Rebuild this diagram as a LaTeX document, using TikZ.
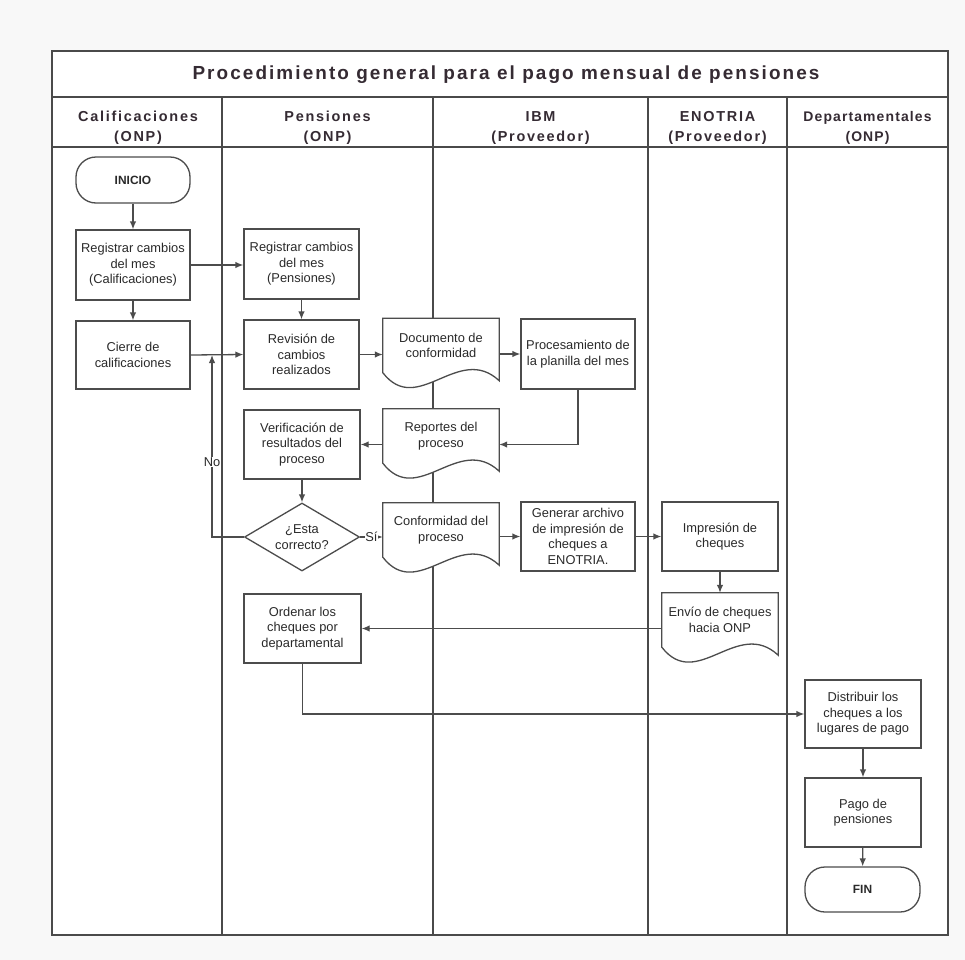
\documentclass[tikz,border=0pt]{standalone}
\usepackage{fontspec}
\setmainfont{Liberation Sans}
\newfontfamily\hdrfont[LetterSpace=12]{Liberation Sans}
\newfontfamily\depfont[LetterSpace=8]{Liberation Sans}
\newfontfamily\ttlfont[LetterSpace=11]{Liberation Sans}
\usetikzlibrary{shapes.geometric,arrows.meta,calc}
\definecolor{lnc}{HTML}{4C4C4C}
\definecolor{frc}{HTML}{4A4A4A}
\definecolor{txc}{HTML}{2A2A2A}
\definecolor{hdc}{HTML}{352B33}
\definecolor{outbg}{HTML}{F8F8F8}
\pgfdeclarelayer{lanes}
\pgfdeclarelayer{docbg}
\pgfsetlayers{lanes,docbg,main}
\newcommand\nodefnt{\fontsize{12.9}{15.5}\selectfont}
\newcommand\docoutline[1]{%
  \path[draw=lnc,line width=1.3bp,fill=white]
    (#1.north west) -- (#1.north east) -- ($(#1.south east)+(0,8)$)
    .. controls ($(#1.south west)!0.65!(#1.south east)+(0,-30)$) and ($(#1.south west)!0.3!(#1.south east)+(0,45)$) .. (#1.south west) -- cycle;}
\tikzset{
  box/.style={draw=lnc,line width=1.3bp,fill=white,minimum width=115bp,minimum height=69bp,
    align=center,inner sep=2bp,font=\nodefnt,text=txc},
  term/.style={box,rounded corners=20bp,minimum height=46bp,font=\fontsize{12}{14}\selectfont\bfseries},
  dec/.style={draw=lnc,line width=1.3bp,fill=white,diamond,aspect=1.69,minimum width=115bp,
    minimum height=68bp,inner sep=0pt,align=center,font=\nodefnt,text=txc},
  docn/.style={align=center,minimum width=116bp,minimum height=54bp,inner sep=0pt,font=\nodefnt,text=txc},
  arr/.style={draw=lnc,line width=1.3bp,-{Latex[length=8bp,width=6.5bp]}},
  con/.style={draw=lnc,line width=1.3bp},
  hdr/.style={align=center,text=hdc,font=\hdrfont\bfseries\fontsize{14.5}{20}\selectfont},
  lbl/.style={fill=white,inner sep=0.6bp,text=txc,font=\nodefnt},
  lane/.style={draw=frc,line width=1.6bp}
}
\begin{document}
\begin{tikzpicture}[x=1bp,y=-1bp]
\useasboundingbox (0,0) rectangle (965,960);
\begin{pgfonlayer}{lanes}
\fill[outbg] (0,0) rectangle (965,960);
\fill[white] (52,51) rectangle (948,935);
\draw[lane] (52,51) rectangle (948,935);
\draw[lane] (52,97) -- (948,97);
\draw[lane] (52,147) -- (948,147);
\foreach \x in {222,433,648,787} \draw[lane] (\x,97) -- (\x,935);
\end{pgfonlayer}

\node[text=hdc,font=\ttlfont\bfseries\fontsize{19}{21}\selectfont] (title) at (506,75) {Procedimiento general para el pago mensual de pensiones};
\node[hdr] (h1) at (138,128) {Calificaciones\\(ONP)};
\node[hdr] (h2) at (327.5,128) {Pensiones\\(ONP)};
\node[hdr] (h3) at (540.5,128) {IBM\\(Proveedor)};
\node[hdr] (h4) at (717.5,128) {ENOTRIA\\(Proveedor)};
\node[hdr,font=\depfont\bfseries\fontsize{14}{20}\selectfont] (h5) at (867.5,128) {Departamentales\\(ONP)};

% column 1
\node[term,minimum width=114bp] (inicio) at (133,180) {INICIO};
\node[box,minimum width=114bp,minimum height=70bp] (regc) at (133,265) {Registrar cambios\\del mes\\(Calificaciones)};
\node[box,minimum width=114bp,minimum height=68bp] (cierre) at (133,355) {Cierre de\\calificaciones};
% column 2
\node[box,minimum height=70bp] (regp) at (301.5,264) {Registrar cambios\\del mes\\(Pensiones)};
\node[box] (rev) at (301.5,354.5) {Revisión de\\cambios\\realizados};
\node[box,minimum width=116bp] (verif) at (302,444.5) {Verificación de\\resultados del\\proceso};
\node[dec] (dia) at (302,537) {¿Esta\\correcto?};
\node[box,minimum width=117bp] (ord) at (302.5,628.5) {Ordenar los\\cheques por\\departamental};
% column 3
\node[docn] (doc) at (441,345.5) {Documento de\\conformidad};
\node[docn] (rep) at (441,436) {Reportes del\\proceso};
\node[docn] (conf) at (441,530) {Conformidad del\\proceso};
\node[box,minimum width=114bp,minimum height=70bp] (proc) at (578,354) {Procesamiento de\\la planilla del mes};
\node[box,minimum width=114bp] (gen) at (578,536.5) {Generar archivo\\de impresión de\\cheques a\\ENOTRIA.};
% column 4
\node[box,minimum width=116bp] (imp) at (720,536.5) {Impresión de\\cheques};
\node[docn] (env) at (720,620) {Envío de cheques\\hacia ONP};
% column 5
\node[box,minimum width=116bp,minimum height=68bp] (dist) at (863,714) {Distribuir los\\cheques a los\\lugares de pago};
\node[box,minimum width=116bp] (pago) at (863,812.5) {Pago de\\pensiones};
\node[term,minimum width=115bp,minimum height=45bp] (fin) at (862.5,889.5) {FIN};

\begin{pgfonlayer}{docbg}
\docoutline{doc}
\docoutline{rep}
\docoutline{conf}
\docoutline{env}
\end{pgfonlayer}

% connectors
\draw[arr] (inicio) -- (regc);
\draw[arr] (regc) -- (cierre);
\draw[arr] (regc.east) -- (regc.east -| regp.west);
\draw[arr] (regp) -- (rev);
\draw[arr] (cierre.east) -- (rev.west);
\draw[arr] (rev.east) -- (rev.east -| doc.west);
\draw[arr] (proc.west -| doc.east) -- (proc.west);
\draw[arr] (proc.south) |- (verif.east -| rep.east);
\draw[arr] (verif.east -| rep.west) -- (verif.east);
\draw[arr] (verif) -- (dia);
\coordinate (nj) at (212,355);
\draw[arr] (dia.west) -| (nj);
\node[lbl] (no) at (212,462) {No};
\draw[arr] (dia.east) -- (dia.east -| conf.west) node[lbl,midway] (si) {Sí};
\draw[arr] (gen.west -| conf.east) -- (gen.west);
\draw[arr] (gen.east) -- (imp.west);
\draw[arr] (imp) -- (env);
\draw[arr] (ord.east -| env.west) -- (ord.east);
\draw[arr] (ord.south) |- (dist.west);
\draw[arr] (dist) -- (pago);
\draw[arr] (pago) -- (fin);
\end{tikzpicture}
\end{document}
